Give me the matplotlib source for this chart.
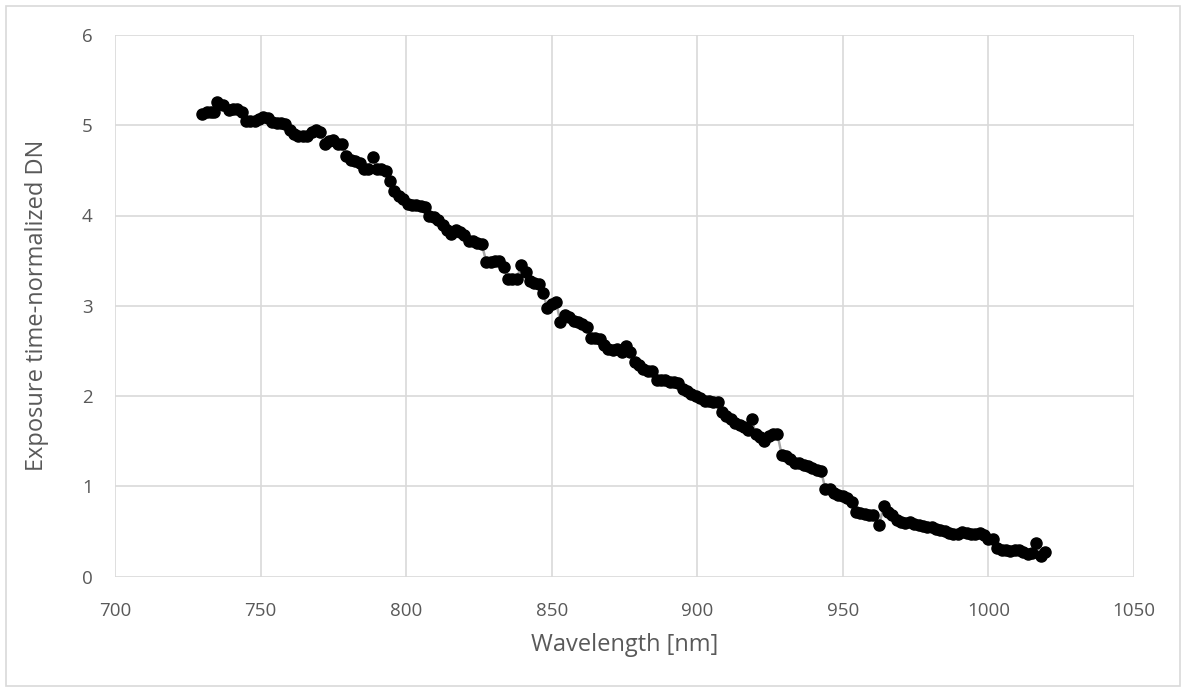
import matplotlib
matplotlib.use("Agg")
import matplotlib.pyplot as plt
from matplotlib.patches import Rectangle

plt.rcParams['font.family'] = ['Open Sans', 'DejaVu Sans']

wavelength_nm = [
    730, 731.5, 733, 734, 735, 737, 739, 740.5, 742, 743.5, 745, 746.5, 748, 749.5,
    751, 752.5, 754, 755.5, 757, 758.5, 760, 761.5, 763, 764.5, 766, 767.5, 769, 770.5,
    772, 773.5, 775, 776.5, 778, 779.5, 781, 782.5, 784, 785.5, 787, 788.5, 790, 791.5,
    793, 794.5, 796, 797.5, 799, 800.5, 802, 803.5, 805, 806.5, 808, 809.5, 811, 812.5,
    814, 815.5, 817, 818.5, 820, 821.5, 823, 824.5, 826, 827.5, 829, 830.5, 832, 833.5,
    835, 836.5, 838, 839.5, 841, 842.5, 844, 845.5, 847, 848.5, 850, 851.5, 853, 854.5,
    856, 857.5, 859, 860.5, 862, 863.5, 865, 866.5, 868, 869.5, 871, 872.5, 874, 875.5,
    877, 878.5, 880, 881.5, 883, 884.5, 886, 887.5, 889, 890.5, 892, 893.5, 895, 896.5,
    898, 899.5, 901, 902.5, 904, 905.5, 907, 908.5, 910, 911.5, 913, 914.5, 916, 917.5,
    918.8, 920, 921.5, 923, 924.5, 926, 927.5, 929, 930.5, 932, 933.5, 935, 936.5, 938,
    939.5, 941, 942.5, 944, 945.5, 947, 948.5, 950, 951.5, 953, 954.5, 956, 957.5, 959,
    960.5, 962.5, 964, 965.5, 967, 968.5, 970, 971.5, 973, 974.5, 976, 977.5, 979, 980.5,
    982, 983.5, 985, 986.5, 988, 989.5, 991, 992.5, 994, 995.5, 997, 998.5, 1000, 1001.5,
    1003, 1004.5, 1006, 1007.5, 1009, 1010.5, 1012, 1013.5, 1015, 1016.5, 1018, 1019.5,
]

normalized_dn = [
    5.12, 5.15, 5.15, 5.15, 5.26, 5.22, 5.17, 5.18, 5.18, 5.15, 5.05, 5.05, 5.05, 5.07,
    5.09, 5.08, 5.04, 5.02, 5.02, 5.01, 4.95, 4.90, 4.88, 4.88, 4.88, 4.92, 4.95, 4.93,
    4.79, 4.82, 4.84, 4.79, 4.79, 4.66, 4.62, 4.60, 4.58, 4.52, 4.52, 4.65, 4.52, 4.52,
    4.49, 4.38, 4.27, 4.22, 4.18, 4.13, 4.12, 4.12, 4.10, 4.09, 3.99, 3.98, 3.95, 3.90,
    3.84, 3.80, 3.84, 3.82, 3.78, 3.72, 3.72, 3.70, 3.68, 3.49, 3.49, 3.50, 3.50, 3.43,
    3.30, 3.30, 3.30, 3.45, 3.37, 3.27, 3.25, 3.24, 3.14, 2.98, 3.02, 3.04, 2.82, 2.90,
    2.88, 2.83, 2.82, 2.80, 2.77, 2.64, 2.64, 2.63, 2.56, 2.52, 2.51, 2.52, 2.49, 2.55,
    2.49, 2.38, 2.34, 2.30, 2.28, 2.28, 2.18, 2.18, 2.18, 2.16, 2.15, 2.14, 2.08, 2.05,
    2.02, 2.00, 1.98, 1.95, 1.95, 1.93, 1.93, 1.82, 1.78, 1.75, 1.70, 1.68, 1.66, 1.62,
    1.74, 1.58, 1.55, 1.50, 1.56, 1.58, 1.58, 1.35, 1.33, 1.30, 1.26, 1.26, 1.23, 1.22,
    1.20, 1.18, 1.17, 0.97, 0.97, 0.93, 0.90, 0.89, 0.87, 0.82, 0.72, 0.70, 0.69, 0.68,
    0.68, 0.57, 0.78, 0.72, 0.68, 0.63, 0.60, 0.59, 0.60, 0.58, 0.57, 0.56, 0.55, 0.55,
    0.53, 0.51, 0.50, 0.48, 0.47, 0.47, 0.49, 0.48, 0.47, 0.47, 0.48, 0.46, 0.42, 0.41,
    0.32, 0.29, 0.29, 0.28, 0.29, 0.29, 0.27, 0.25, 0.26, 0.37, 0.23, 0.27,
]

x_ticks = [700, 750, 800, 850, 900, 950, 1000, 1050]
y_ticks = [0, 1, 2, 3, 4, 5, 6]

fig = plt.figure(figsize=(11.86, 6.91), dpi=100)
ax = fig.add_axes([115 / 1186, 1 - 576.5 / 691, (1134 - 115) / 1186, (576.5 - 35) / 691])

fig.patches.append(Rectangle((5.5 / 1186, 5.5 / 691), (1180 - 5.5) / 1186, (685 - 5.5) / 691,
                             transform=fig.transFigure, fill=False,
                             edgecolor='#d9d9d9', linewidth=1.2))

ax.plot(wavelength_nm, normalized_dn, color='#a6a6a6', linewidth=1.8, zorder=2)
ax.plot(wavelength_nm, normalized_dn, linestyle='none', marker='o', markersize=8,
        markerfacecolor='black', markeredgecolor='black', zorder=3)

ax.set_xlim(700, 1050)
ax.set_ylim(0, 6)
ax.set_xticks(x_ticks)
ax.set_yticks(y_ticks)
ax.grid(True, color='#d9d9d9', linewidth=1.2)
ax.set_axisbelow(True)
for s in ax.spines.values():
    s.set_visible(False)
ax.tick_params(length=0, labelsize=13.5, colors='#595959', pad=18)
ax.tick_params(axis='y', pad=16)

ax.set_xlabel('Wavelength [nm]', fontsize=17, color='#595959', labelpad=10)
ax.set_ylabel('Exposure time-normalized DN', fontsize=17, color='#595959', labelpad=24)

fig.savefig('out.png', dpi=100, facecolor='white')
